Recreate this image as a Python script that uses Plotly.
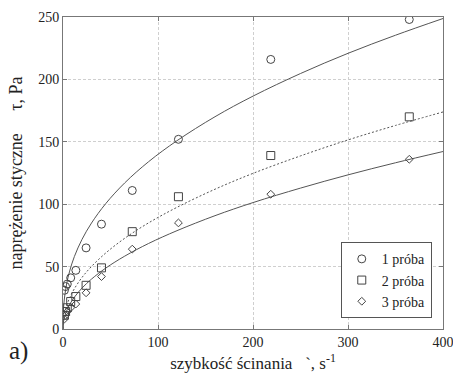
import plotly.graph_objects as go

# measured shear rates (s^-1)
shear_rate = [1.5, 2.7, 4.5, 8.1, 13.5, 24.3, 40.5, 72.9, 121.5, 218.7, 364.5]
# shear stress (Pa) for three samples
proba1 = [31, 34, 36, 41, 47, 65, 84, 111, 152, 216, 248]
proba2 = [11, 14, 17, 22, 26, 35, 49, 78, 106, 139, 170]
proba3 = [8, 11, 14, 17, 20, 29, 42, 64, 85, 108, 136]

# fitted curves
curve_x = [0, 0.5, 1, 2, 4, 7, 12, 20, 30, 45, 65, 90, 120, 160, 200, 250, 300, 350, 400]
curve1 = [0, 15.5, 20.7, 27.6, 36.8, 46.4, 58.1, 71.8, 84.9, 100.5, 117.1, 134.0, 150.9, 170.1, 186.6, 204.7, 220.9, 235.4, 248.8]
curve2 = [0, 7.0, 9.8, 13.7, 19.1, 24.9, 32.3, 41.3, 50.1, 60.9, 72.7, 85.0, 97.5, 112.0, 124.7, 138.7, 151.5, 163.1, 173.9]
curve3 = [0, 5.4, 7.55, 10.6, 14.9, 19.6, 25.5, 32.8, 40.0, 48.8, 58.4, 68.5, 78.8, 90.8, 101.3, 112.9, 123.5, 133.2, 142.2]

labels = ["1 próba", "2 próba", "3 próba"]
x_ticks = [0, 100, 200, 300, 400]
y_ticks = [0, 50, 100, 150, 200, 250]

SERIF = "Liberation Serif"
LINE_C = "#555555"
MARK_C = "#444444"

fig = go.Figure()
fig.add_trace(go.Scatter(x=curve_x, y=curve1, mode="lines", line=dict(color=LINE_C, width=1, shape="spline"), showlegend=False, hoverinfo="skip"))
fig.add_trace(go.Scatter(x=curve_x, y=curve2, mode="lines", line=dict(color=LINE_C, width=1, dash="2px,2px", shape="spline"), showlegend=False, hoverinfo="skip"))
fig.add_trace(go.Scatter(x=curve_x, y=curve3, mode="lines", line=dict(color=LINE_C, width=1, shape="spline"), showlegend=False, hoverinfo="skip"))

fig.add_trace(go.Scatter(x=shear_rate, y=proba1, mode="markers", name=labels[0],
                         marker=dict(symbol="circle-open", size=8, color=MARK_C, line=dict(width=1))))
fig.add_trace(go.Scatter(x=shear_rate, y=proba2, mode="markers", name=labels[1],
                         marker=dict(symbol="square-open", size=8, color=MARK_C, line=dict(width=1))))
fig.add_trace(go.Scatter(x=shear_rate, y=proba3, mode="markers", name=labels[2],
                         marker=dict(symbol="diamond-open", size=6, color=MARK_C, line=dict(width=1))))

axis_common = dict(
    showline=True, linecolor="#777777", linewidth=1, mirror="ticks",
    ticks="inside", ticklen=4, tickcolor="#777777",
    showgrid=True, gridcolor="#cfcfcf", griddash="3px,2px", gridwidth=1,
    zeroline=False, automargin=False, ticklabeloverflow="allow",
    tickfont=dict(family=SERIF, size=14, color="#222222"),
)

fig.update_layout(
    width=453, height=376,
    margin=dict(l=63, r=10, t=17, b=47),
    paper_bgcolor="white", plot_bgcolor="white",
    font=dict(family=SERIF, color="#222222"),
    xaxis=dict(range=[0, 400], tickvals=x_ticks, **axis_common,
               title=dict(text="szybkość ścinania   `, s<sup>-1</sup>", font=dict(family=SERIF, size=17), standoff=8)),
    yaxis=dict(range=[0, 250], tickvals=y_ticks, **axis_common,
               title=dict(text="naprężenie styczne     τ, Pa", font=dict(family=SERIF, size=18), standoff=10)),
    legend=dict(x=0.731, y=0.278, xanchor="left", yanchor="top",
                bgcolor="white", bordercolor="#555555", borderwidth=1,
                font=dict(family=SERIF, size=14, color="#222222"),
                itemwidth=30, tracegroupgap=0),
    annotations=[dict(text="a)", xref="paper", yref="paper", x=-0.147, y=-0.07,
                      xanchor="left", yanchor="middle", showarrow=False,
                      font=dict(family=SERIF, size=25, color="#222222"))],
)

fig.write_html("out.html",
               config={"displayModeBar": False},
               post_script="document.body.style.margin='0';document.body.style.overflow='hidden';")
